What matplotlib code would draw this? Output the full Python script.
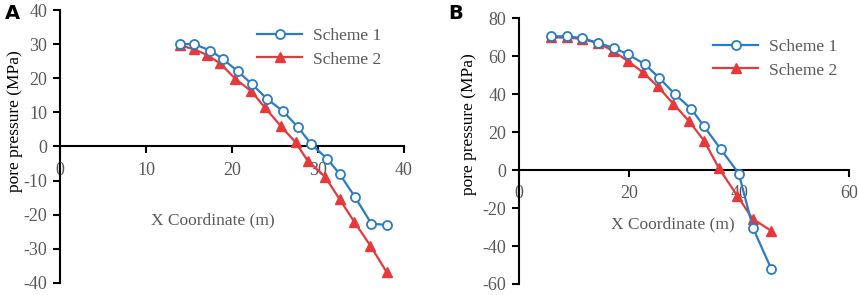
import matplotlib.pyplot as plt

plt.rcParams["axes.unicode_minus"] = False

# Panel A data
xa1 = [14.0, 15.6, 17.5, 18.9, 20.7, 22.3, 24.1, 25.9, 27.7, 29.2, 31.1, 32.5, 34.3, 36.2, 38.0]
ya1 = [30.0, 30.0, 28.1, 25.7, 22.0, 18.3, 13.9, 10.4, 5.6, 0.7, -3.7, -8.0, -14.8, -22.6, -23.0]
xa2 = [14.0, 15.6, 17.1, 18.6, 20.4, 22.2, 23.8, 25.7, 27.4, 28.8, 30.8, 32.5, 34.2, 36.1, 38.0]
ya2 = [29.6, 28.5, 26.8, 24.4, 19.8, 16.3, 11.5, 5.9, 1.2, -4.2, -8.8, -15.4, -22.0, -29.1, -36.9]

# Panel B data
xb1 = [5.8, 8.7, 11.5, 14.4, 17.3, 19.7, 22.8, 25.5, 28.3, 31.3, 33.6, 36.6, 39.9, 42.5, 45.8]
yb1 = [70.5, 70.5, 69.6, 66.9, 64.3, 61.1, 55.9, 48.5, 40.0, 32.2, 23.0, 11.2, -1.8, -30.6, -52.0]
xb2 = [5.8, 8.7, 11.5, 14.4, 17.0, 19.7, 22.5, 25.2, 28.0, 30.9, 33.6, 36.3, 39.6, 42.4, 45.8]
yb2 = [69.9, 69.9, 69.1, 66.9, 62.9, 57.6, 51.5, 44.1, 35.0, 25.7, 15.5, 1.0, -13.4, -25.6, -32.0]

blue = "#2a7cc4"
red = "#e5393c"
gray = "#595959"
serif = "Liberation Serif"

fig = plt.figure(figsize=(8.58, 2.95), dpi=100)
axA = fig.add_axes([0.0699, 0.0407, 0.401, 0.9254])
axB = fig.add_axes([0.605, 0.0373, 0.385, 0.9006])

panels = [
    (axA, xa1, ya1, xa2, ya2, (0, 40), range(0, 41, 10), (-40, 40), range(-40, 41, 10)),
    (axB, xb1, yb1, xb2, yb2, (0, 60), range(0, 61, 20), (-60, 80), range(-60, 81, 20)),
]

for ax, x1, y1, x2, y2, xlim, xt, ylim, yt in panels:
    ax.plot(x1, y1, color=blue, lw=1.6, marker="o", ms=6.5, mfc="white",
            mec=blue, mew=1.3, label="Scheme 1", zorder=4)
    ax.plot(x2, y2, color=red, lw=1.6, marker="^", ms=7, mfc=red,
            mec=red, label="Scheme 2", zorder=3)
    ax.set_xlim(*xlim)
    ax.set_ylim(*ylim)
    ax.set_xticks(list(xt))
    ax.set_yticks(list(yt))
    ax.spines["top"].set_visible(False)
    ax.spines["right"].set_visible(False)
    ax.spines["bottom"].set_position(("data", 0))
    for s in ("left", "bottom"):
        ax.spines[s].set_linewidth(1.5)
        ax.spines[s].set_color("black")
    ax.tick_params(axis="both", direction="out", length=5, width=1.5,
                   colors="black", labelcolor=gray, labelsize=13)
    ax.tick_params(axis="x", pad=6)
    ax.tick_params(axis="y", pad=4)
    for lab in ax.get_xticklabels() + ax.get_yticklabels():
        lab.set_fontfamily(serif)
    ax.set_ylabel("pore pressure (MPa)", fontfamily=serif, fontsize=12.5,
                  color="black")

# legends, placed by their upper-left corner
for ax, anchor in [(axA, (0.573, 0.933)), (axB, (0.588, 0.921))]:
    ax.legend(loc="upper left", bbox_to_anchor=anchor, frameon=False,
              prop={"family": serif, "size": 12.5}, borderpad=0, borderaxespad=0,
              handlelength=2.6, handletextpad=0.6, labelspacing=0.4,
              labelcolor=gray)

axA.yaxis.set_label_coords(-0.107, 0.593)
axB.yaxis.set_label_coords(-0.127, 0.602)
axA.text(0.445, 0.231, "X Coordinate (m)", transform=axA.transAxes, ha="center",
         va="center", fontfamily=serif, fontsize=12.5, color=gray)
axB.text(0.464, 0.226, "X Coordinate (m)", transform=axB.transAxes, ha="center",
         va="center", fontfamily=serif, fontsize=12.5, color=gray)

fig.text(0.006, 0.955, "A", fontsize=14, fontweight="bold", fontfamily="DejaVu Sans",
         ha="left", va="center")
fig.text(0.523, 0.955, "B", fontsize=14, fontweight="bold", fontfamily="DejaVu Sans",
         ha="left", va="center")

fig.savefig("out.png", dpi=100)
